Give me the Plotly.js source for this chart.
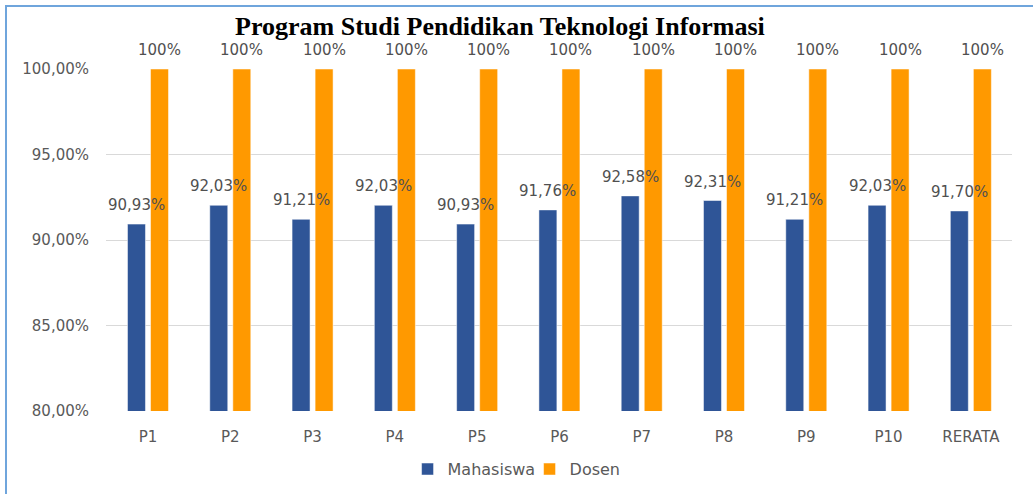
<!DOCTYPE html>
<html>
<head>
<meta charset="utf-8">
<script src="https://cdn.plot.ly/plotly-3.0.1.min.js"></script>
<style>
html,body{margin:0;padding:0;background:#fff;}
#wrap{position:relative;width:1033px;height:494px;}
#chart{position:absolute;left:0;top:0;width:1033px;height:494px;}
#frame{position:absolute;left:5px;top:5px;right:0;bottom:0;border-left:2px solid #6fa5dc;border-top:2px solid #6fa5dc;pointer-events:none;}
</style>
</head>
<body>
<div id="wrap"><div id="chart"></div><div id="frame"></div></div>
<script>
var categories = ['P1','P2','P3','P4','P5','P6','P7','P8','P9','P10','RERATA'];
var mahasiswa = [0.9093,0.9203,0.9121,0.9203,0.9093,0.9176,0.9258,0.9231,0.9121,0.9203,0.9170];
var dosen = [1,1,1,1,1,1,1,1,1,1,1];
var seriesNames = ['Mahasiswa','Dosen'];
var titleText = 'Program Studi Pendidikan Teknologi Informasi';

var blue = '#2f5597', orange = '#ff9900';
var labelFont = {family:'DejaVu Sans', size:15, color:'#505050'};

function fmt2(v){ return (v*100).toFixed(2).replace('.', ',') + '%'; }
function fmt0(v){ return Math.round(v*100) + '%'; }

var traces = [
  {type:'bar', name:seriesNames[0], x:categories, y:mahasiswa, marker:{color:blue, line:{color:'#ffffff', width:0.5}}, hoverinfo:'none'},
  {type:'bar', name:seriesNames[1], x:categories, y:dosen, marker:{color:orange, line:{color:'#ffffff', width:0.5}}, hoverinfo:'none'}
];

var annotations = [];
categories.forEach(function(c,i){
  annotations.push({x:c, y:mahasiswa[i], xref:'x', yref:'y', text:fmt2(mahasiswa[i]), showarrow:false, xshift:-11.5, yshift:19, yanchor:'middle', font:labelFont});
  annotations.push({x:c, y:dosen[i], xref:'x', yref:'y', text:fmt0(dosen[i]), showarrow:false, xshift:11.5, yshift:19, yanchor:'middle', font:labelFont});
});

var layout = {
  width:1033, height:494,
  margin:{l:106, r:21, t:69, b:83, autoexpand:false},
  paper_bgcolor:'rgba(0,0,0,0)', plot_bgcolor:'rgba(0,0,0,0)',
  separators:',.',
  title:{text:'<b>'+titleText+'</b>', x:0.484, xref:'container', xanchor:'center', y:0.947, yref:'container', yanchor:'middle', font:{family:'Liberation Serif', size:26, color:'#000000'}},
  barmode:'group', bargap:0.44, bargroupgap:0.22,
  xaxis:{type:'category', showgrid:false, showline:false, zeroline:false, ticks:'', tickfont:{family:'DejaVu Sans', size:15, color:'#595959'}, ticklabelstandoff:15, fixedrange:true},
  yaxis:{range:[0.8,1.0], tickvals:[0.8,0.85,0.9,0.95,1.0], tickformat:'.2%', showgrid:true, gridcolor:'#d9d9d9', gridwidth:1, zeroline:false, showline:false, ticks:'', tickfont:{family:'DejaVu Sans', size:15, color:'#595959'}, ticklabelstandoff:16, fixedrange:true},
  showlegend:true,
  legend:{orientation:'h', x:0.4675, xanchor:'center', y:-0.17, yanchor:'middle', font:{family:'DejaVu Sans', size:16, color:'#595959'}, itemwidth:30, entrywidth:77, traceorder:'normal'},
  annotations:annotations
};

Plotly.newPlot('chart', traces, layout, {displayModeBar:false, staticPlot:true});
</script>
</body>
</html>
